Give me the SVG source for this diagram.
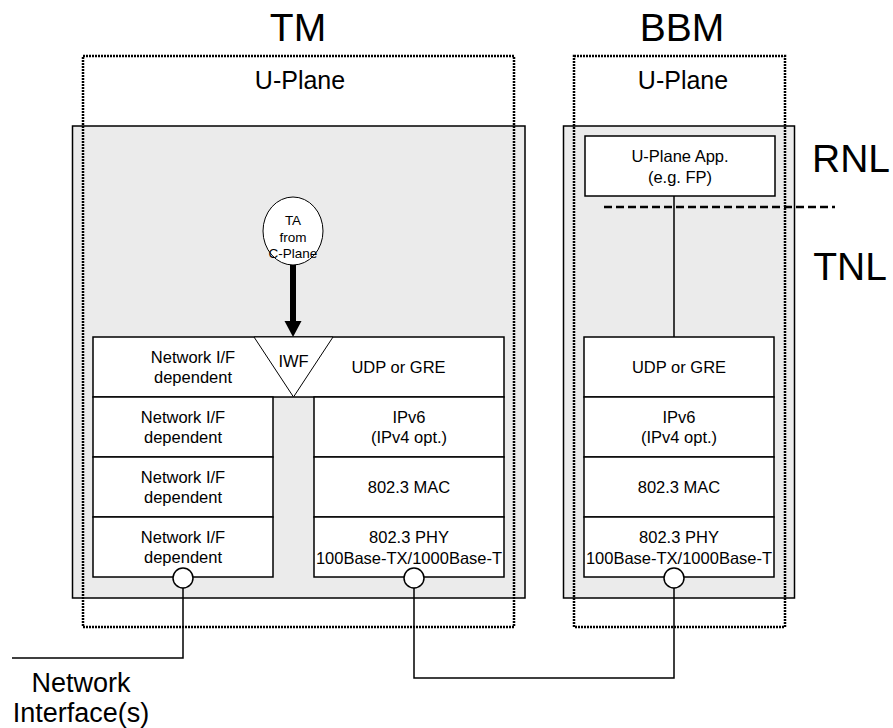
<svg xmlns="http://www.w3.org/2000/svg" width="893" height="728" viewBox="0 0 893 728">
<defs>
<style>
text{font-family:"Liberation Sans",Arial,sans-serif;fill:#000;text-anchor:middle}
.big{font-size:39px}
.mid{font-size:25px}
.sm{font-size:16.5px}
.ta{font-size:13.5px}
.gray{fill:#ebebeb;stroke:#000;stroke-width:1.5}
.dot{fill:none;stroke:#000;stroke-width:2.5;stroke-dasharray:2 1}
.box{fill:#fff;stroke:#000;stroke-width:1.5}
.ln{fill:none;stroke:#000;stroke-width:1.5}
</style>
</defs>
<text class="big" x="298" y="41">TM</text>
<text class="big" x="682" y="41">BBM</text>
<text class="big" x="851" y="172">RNL</text>
<text class="big" x="850" y="280">TNL</text>

<g id="tm-frame">
<rect class="gray" x="72.5" y="126" width="452.5" height="472"/>
</g>
<g id="bbm-frame">
<rect class="gray" x="563.5" y="126" width="231" height="472"/>
</g>
<g id="tm-uplane">
<rect class="dot" x="83" y="56" width="431" height="571"/>
<text class="mid" x="300" y="89">U-Plane</text>
</g>
<g id="bbm-uplane">
<rect class="dot" x="574" y="56" width="211" height="571"/>
<text class="mid" x="683" y="89">U-Plane</text>
</g>

<g id="connectors">
<line class="ln" x1="674" y1="196" x2="674" y2="337"/>
<line x1="604" y1="207" x2="835" y2="207" stroke="#000" stroke-width="2.5" stroke-dasharray="8 4"/>
<polyline class="ln" points="183,588 183,658 12,658"/>
<polyline class="ln" points="414,588 414,678 674,678 674,588"/>
<line x1="293" y1="265" x2="293" y2="323" stroke="#000" stroke-width="6"/>
<polygon points="284.5,321 301.5,321 293,337" fill="#000"/>
</g>

<g id="bbm-app">
<rect class="box" x="585" y="136" width="190" height="60"/>
<text class="sm" x="680" y="162">U-Plane App.</text>
<text class="sm" x="680" y="183">(e.g. FP)</text>
</g>

<g id="tm-top-row">
<rect class="box" x="93" y="337" width="411" height="60"/>
<text class="sm" x="193" y="363">Network I/F</text>
<text class="sm" x="193" y="383">dependent</text>
<text class="sm" x="398.5" y="373">UDP or GRE</text>
</g>
<g id="tm-iwf">
<polygon points="254,337 333,337 293.5,397" fill="#fff" stroke="#000" stroke-width="1"/>
<text class="sm" x="293.5" y="367">IWF</text>
</g>
<g id="tm-nif2">
<rect class="box" x="93" y="397" width="180" height="60"/>
<text class="sm" x="183" y="423">Network I/F</text>
<text class="sm" x="183" y="443">dependent</text>
</g>
<g id="tm-nif3">
<rect class="box" x="93" y="457" width="180" height="60"/>
<text class="sm" x="183" y="483">Network I/F</text>
<text class="sm" x="183" y="503">dependent</text>
</g>
<g id="tm-nif4">
<rect class="box" x="93" y="517" width="180" height="60"/>
<text class="sm" x="183" y="543">Network I/F</text>
<text class="sm" x="183" y="563">dependent</text>
</g>
<g id="tm-ipv6">
<rect class="box" x="314" y="397" width="190" height="60"/>
<text class="sm" x="409" y="423">IPv6</text>
<text class="sm" x="409" y="443">(IPv4 opt.)</text>
</g>
<g id="tm-mac">
<rect class="box" x="314" y="457" width="190" height="60"/>
<text class="sm" x="409" y="493">802.3 MAC</text>
</g>
<g id="tm-phy">
<rect class="box" x="314" y="517" width="190" height="60"/>
<text class="sm" x="409" y="543">802.3 PHY</text>
<text class="sm" x="409" y="564">100Base-TX/1000Base-T</text>
</g>

<g id="bbm-udp">
<rect class="box" x="584" y="337" width="190" height="60"/>
<text class="sm" x="679" y="373">UDP or GRE</text>
</g>
<g id="bbm-ipv6">
<rect class="box" x="584" y="397" width="190" height="60"/>
<text class="sm" x="679" y="423">IPv6</text>
<text class="sm" x="679" y="443">(IPv4 opt.)</text>
</g>
<g id="bbm-mac">
<rect class="box" x="584" y="457" width="190" height="60"/>
<text class="sm" x="679" y="493">802.3 MAC</text>
</g>
<g id="bbm-phy">
<rect class="box" x="584" y="517" width="190" height="60"/>
<text class="sm" x="679" y="543">802.3 PHY</text>
<text class="sm" x="679" y="564">100Base-TX/1000Base-T</text>
</g>

<g id="ta-circle">
<ellipse cx="293" cy="231" rx="30" ry="34" fill="#fff" stroke="#000" stroke-width="1"/>
<text class="ta" x="293" y="225">TA</text>
<text class="ta" x="293" y="242">from</text>
<text class="ta" x="293" y="258">C-Plane</text>
</g>

<g id="port-tm-nif">
<circle cx="183" cy="578" r="10" fill="#fff" stroke="#000" stroke-width="1.5"/>
</g>
<g id="port-tm-phy">
<circle cx="414" cy="578" r="10" fill="#fff" stroke="#000" stroke-width="1.5"/>
</g>
<g id="port-bbm-phy">
<circle cx="674" cy="578" r="10" fill="#fff" stroke="#000" stroke-width="1.5"/>
</g>

<g id="net-if-label">
<text x="81" y="692" style="font-size:27px">Network</text>
<text x="81" y="722" style="font-size:27px">Interface(s)</text>
</g>
</svg>
